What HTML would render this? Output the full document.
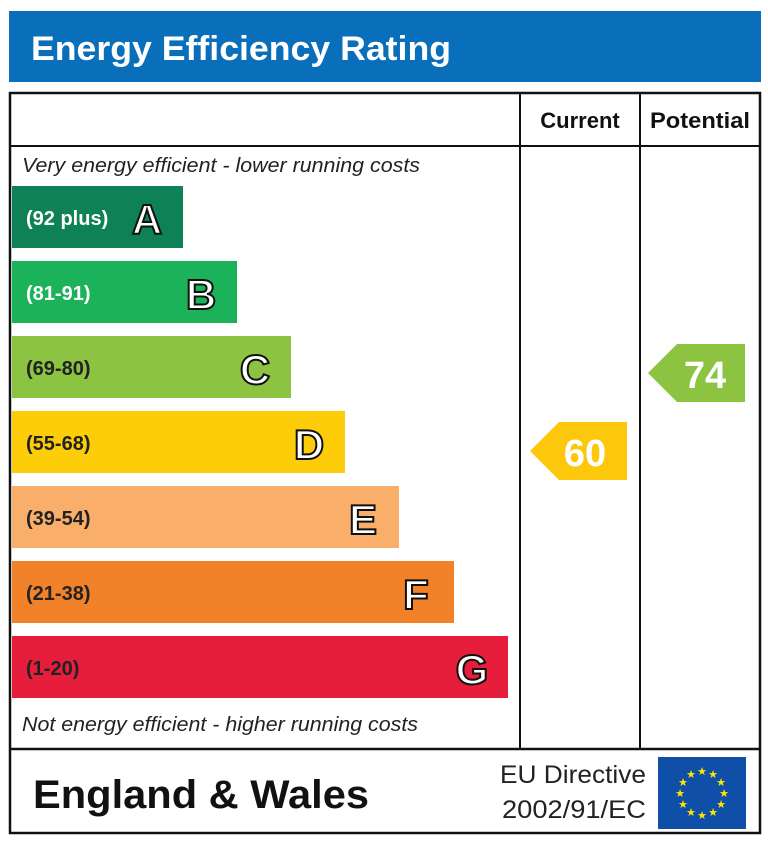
<!DOCTYPE html>
<html><head><meta charset="utf-8"><style>
html,body{margin:0;padding:0;background:#fff;width:768px;height:843px;overflow:hidden}
text{font-family:"Liberation Sans",sans-serif}
</style></head><body>
<svg width="768" height="843" viewBox="0 0 768 843" xmlns="http://www.w3.org/2000/svg">
<rect x="9" y="11" width="752" height="71" fill="#0a6fba"/>
<text x="31" y="60" font-size="34" font-weight="bold" fill="#fff" textLength="420" lengthAdjust="spacingAndGlyphs">Energy Efficiency Rating</text>
<rect x="10" y="93" width="750" height="740" fill="none" stroke="#111" stroke-width="2.5"/>
<line x1="10" y1="146" x2="760" y2="146" stroke="#111" stroke-width="2"/>
<line x1="10" y1="749" x2="760" y2="749" stroke="#111" stroke-width="2.5"/>
<line x1="520" y1="93" x2="520" y2="749" stroke="#111" stroke-width="2"/>
<line x1="640" y1="93" x2="640" y2="749" stroke="#111" stroke-width="2"/>
<text x="580" y="128" font-size="22" font-weight="bold" text-anchor="middle" fill="#111">Current</text>
<text x="700" y="128" font-size="22" font-weight="bold" text-anchor="middle" fill="#111" textLength="100" lengthAdjust="spacingAndGlyphs">Potential</text>
<text x="22" y="172" font-size="20" font-style="italic" fill="#222" textLength="398" lengthAdjust="spacingAndGlyphs">Very energy efficient - lower running costs</text>
<text x="22" y="731" font-size="20" font-style="italic" fill="#222" textLength="396" lengthAdjust="spacingAndGlyphs">Not energy efficient - higher running costs</text>
<g font-weight="bold">
<rect x="12" y="186" width="171" height="62" fill="#0e8156"/>
<text x="26" y="225" font-size="20" fill="#fff">(92 plus)</text>
<text x="147" y="234" font-size="42" fill="#fff" stroke="#111" stroke-width="2" text-anchor="middle">A</text>
<rect x="12" y="261" width="225" height="62" fill="#1bb25a"/>
<text x="26" y="300" font-size="20" fill="#fff">(81-91)</text>
<text x="201" y="309" font-size="42" fill="#fff" stroke="#111" stroke-width="2" text-anchor="middle">B</text>
<rect x="12" y="336" width="279" height="62" fill="#8cc341"/>
<text x="26" y="375" font-size="20" fill="#222">(69-80)</text>
<text x="255" y="384" font-size="42" fill="#fff" stroke="#111" stroke-width="2" text-anchor="middle">C</text>
<rect x="12" y="411" width="333" height="62" fill="#fecd0a"/>
<text x="26" y="450" font-size="20" fill="#222">(55-68)</text>
<text x="309" y="459" font-size="42" fill="#fff" stroke="#111" stroke-width="2" text-anchor="middle">D</text>
<rect x="12" y="486" width="387" height="62" fill="#f9ae6a"/>
<text x="26" y="525" font-size="20" fill="#222">(39-54)</text>
<text x="363" y="534" font-size="42" fill="#fff" stroke="#111" stroke-width="2" text-anchor="middle">E</text>
<rect x="12" y="561" width="442" height="62" fill="#f2822a"/>
<text x="26" y="600" font-size="20" fill="#222">(21-38)</text>
<text x="416" y="609" font-size="42" fill="#fff" stroke="#111" stroke-width="2" text-anchor="middle">F</text>
<rect x="12" y="636" width="496" height="62" fill="#e61e3c"/>
<text x="26" y="675" font-size="20" fill="#222">(1-20)</text>
<text x="472" y="684" font-size="42" fill="#fff" stroke="#111" stroke-width="2" text-anchor="middle">G</text>
<polygon points="530,451 559,422 627,422 627,480 559,480" fill="#fdc70b"/>
<text x="585" y="466" font-size="38" fill="#fff" text-anchor="middle">60</text>
<polygon points="648,373 677,344 745,344 745,402 677,402" fill="#8cc341"/>
<text x="705" y="388" font-size="38" fill="#fff" text-anchor="middle">74</text>
<text x="33" y="808" font-size="40" fill="#111" textLength="336" lengthAdjust="spacingAndGlyphs">England &amp; Wales</text>
</g>
<text x="500" y="783" font-size="25" fill="#222" textLength="146" lengthAdjust="spacingAndGlyphs">EU Directive</text>
<text x="502" y="818" font-size="25" fill="#222" textLength="144" lengthAdjust="spacingAndGlyphs">2002/91/EC</text>
<rect x="658" y="757" width="88" height="72" fill="#0f4fa8"/>
<g fill="#ffe600" font-size="11" text-anchor="middle">
<text x="702" y="775">★</text><text x="713" y="778">★</text><text x="721" y="786">★</text><text x="724" y="797">★</text><text x="721" y="808">★</text><text x="713" y="816">★</text><text x="702" y="819">★</text><text x="691" y="816">★</text><text x="683" y="808">★</text><text x="680" y="797">★</text><text x="683" y="786">★</text><text x="691" y="778">★</text>
</g>
</svg>
</body></html>
